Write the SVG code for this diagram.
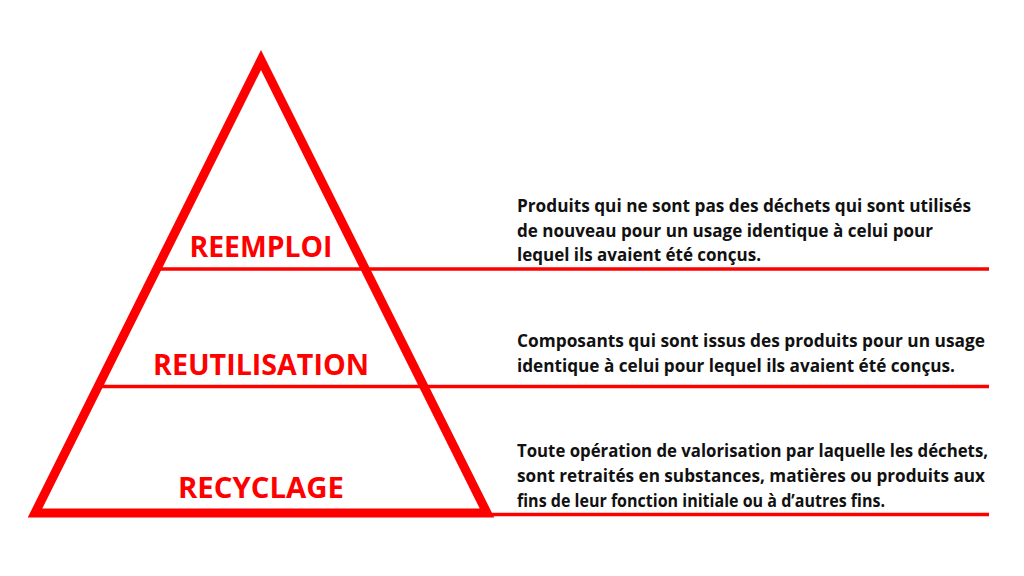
<svg xmlns="http://www.w3.org/2000/svg" width="1024" height="576" viewBox="0 0 1024 576">
  <style>
    .tri { fill: none; stroke: #ff0000; stroke-width: 9; stroke-linejoin: miter; stroke-miterlimit: 10; }
    .rule { stroke: #ff0000; stroke-width: 3.5; fill: none; }
    .lvl { font-family: "Open Sans", "Liberation Sans", sans-serif; font-weight: 700; fill: #ff0000; font-size: 28px; text-anchor: middle; }
    .desc { font-family: "Open Sans", "Liberation Sans", sans-serif; font-weight: 700; fill: #111111; font-size: 18px; }
  </style>
  <rect width="1024" height="576" fill="#ffffff"/>
  <g id="connectors">
    <line class="rule" x1="157" y1="269" x2="989" y2="269"/>
    <line class="rule" x1="100" y1="386.5" x2="989" y2="386.5"/>
    <line class="rule" x1="480" y1="514.5" x2="989" y2="514.5"/>
  </g>
  <g id="pyramid">
    <polygon class="tri" points="261,60 35,513 487,513"/>
  </g>
  <g id="reemploi">
    <text class="lvl" x="261" y="257" textLength="143" lengthAdjust="spacingAndGlyphs">REEMPLOI</text>
    <text class="desc" x="517" y="212" textLength="454" lengthAdjust="spacingAndGlyphs">Produits qui ne sont pas des déchets qui sont utilisés</text>
    <text class="desc" x="517" y="237" textLength="416" lengthAdjust="spacingAndGlyphs">de nouveau pour un usage identique à celui pour</text>
    <text class="desc" x="517" y="261" textLength="244" lengthAdjust="spacingAndGlyphs">lequel ils avaient été conçus.</text>
  </g>
  <g id="reutilisation">
    <text class="lvl" x="261" y="375" textLength="216" lengthAdjust="spacingAndGlyphs">REUTILISATION</text>
    <text class="desc" x="517" y="347" textLength="468" lengthAdjust="spacingAndGlyphs">Composants qui sont issus des produits pour un usage</text>
    <text class="desc" x="517" y="372" textLength="438" lengthAdjust="spacingAndGlyphs">identique à celui pour lequel ils avaient été conçus.</text>
  </g>
  <g id="recyclage">
    <text class="lvl" x="261" y="498" textLength="166" lengthAdjust="spacingAndGlyphs">RECYCLAGE</text>
    <text class="desc" x="517" y="457" textLength="471" lengthAdjust="spacingAndGlyphs">Toute opération de valorisation par laquelle les déchets,</text>
    <text class="desc" x="517" y="482" textLength="468" lengthAdjust="spacingAndGlyphs">sont retraités en substances, matières ou produits aux</text>
    <text class="desc" x="517" y="507" textLength="368" lengthAdjust="spacingAndGlyphs">fins de leur fonction initiale ou à d’autres fins.</text>
  </g>
</svg>
